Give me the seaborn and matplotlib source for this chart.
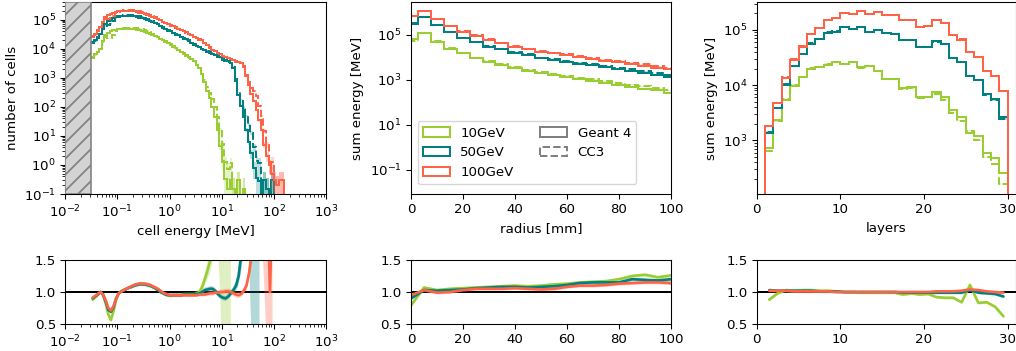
import numpy as np
import pandas as pd
import matplotlib
matplotlib.use("Agg")
import matplotlib.pyplot as plt
from matplotlib.patches import Patch
from matplotlib.ticker import LogLocator, NullFormatter, NullLocator
import seaborn as sns

# ------------------------------------------------------------------ data
labels = ["10GeV", "50GeV", "100GeV"]
palette = ["yellowgreen", "teal", "tomato"]

# panel 1: cell energy spectrum, bins 0.05 decade wide starting at 10^-1.5 MeV
cell_edges = 10 ** np.round(np.arange(-1.5, 2.3001, 0.05), 3)
g4_cells_10 = [5.2e3, 6.3e3, 7.9e3, 1.0e4, 1.8e4, 3.0e4, 3.5e4, 4.0e4, 4.3e4, 4.5e4,
               4.7e4, 4.8e4, 4.9e4, 4.9e4, 4.9e4, 4.8e4, 4.7e4, 4.5e4, 4.3e4, 4.1e4,
               3.8e4, 3.5e4, 3.3e4, 3.0e4, 2.75e4, 2.5e4, 2.2e4, 2.0e4, 1.8e4, 1.6e4,
               1.4e4, 1.2e4, 1.05e4, 9.1e3, 7.9e3, 6.8e3, 5.8e3, 5.0e3, 4.4e3, 3.7e3,
               2.8e3, 2.1e3, 1.3e3, 710, 350, 200, 100, 45, 16, 4.5,
               1.3, 0.32, 0.15, 0.3, 0.15, 0, 0.3, 0, 0.15, 0,
               0, 0, 0, 0, 0, 0, 0, 0, 0, 0, 0, 0, 0, 0, 0, 0]
g4_cells_50 = [1.7e4, 2.0e4, 2.5e4, 3.3e4, 4.8e4, 7.2e4, 8.9e4, 1.05e5, 1.15e5, 1.23e5,
               1.29e5, 1.32e5, 1.35e5, 1.35e5, 1.35e5, 1.32e5, 1.29e5, 1.23e5, 1.17e5, 1.1e5,
               1.02e5, 9.5e4, 8.9e4, 8.1e4, 7.4e4, 6.8e4, 6.0e4, 5.4e4, 4.8e4, 4.3e4,
               3.9e4, 3.5e4, 3.2e4, 2.9e4, 2.6e4, 2.3e4, 2.1e4, 1.9e4, 1.6e4, 1.4e4,
               1.26e4, 1.12e4, 1.0e4, 8.9e3, 7.9e3, 7.1e3, 6.5e3, 5.9e3, 5.4e3, 5.0e3,
               4.6e3, 4.2e3, 3.8e3, 3.3e3, 2.2e3, 790, 250, 110, 45, 16,
               6.3, 2.5, 0.8, 0.35, 0.28, 0, 0.3, 0.15, 0, 0.3,
               0, 0, 0, 0, 0, 0]
g4_cells_100 = [2.7e4, 3.2e4, 4.2e4, 5.6e4, 8.3e4, 1.2e5, 1.41e5, 1.58e5, 1.7e5, 1.82e5,
                1.91e5, 1.95e5, 2.0e5, 2.0e5, 2.0e5, 1.95e5, 1.91e5, 1.82e5, 1.74e5, 1.62e5,
                1.51e5, 1.41e5, 1.32e5, 1.2e5, 1.12e5, 1.02e5, 9.3e4, 8.5e4, 7.8e4, 7.1e4,
                6.5e4, 5.9e4, 5.4e4, 4.9e4, 4.5e4, 4.1e4, 3.6e4, 3.3e4, 3.0e4, 2.6e4,
                2.4e4, 2.1e4, 1.9e4, 1.6e4, 1.3e4, 1.1e4, 9.3e3, 8.1e3, 7.2e3, 6.3e3,
                5.6e3, 5.1e3, 4.7e3, 4.3e3, 4.0e3, 3.7e3, 3.5e3, 3.2e3, 2.4e3, 1.1e3,
                560, 280, 160, 79, 35, 16, 5.0, 2.0, 1.0, 0.5,
                0.3, 0.2, 0.3, 0.3, 0, 0]
nan = np.nan
ratio_cells_10 = [0.88, 0.92, 0.96, 1.00, 0.95, 0.82, 0.65, 0.56, 0.70, 0.88,
                  0.98, 1.01, 1.03, 1.05, 1.07, 1.09, 1.11, 1.12, 1.13, 1.13,
                  1.12, 1.11, 1.10, 1.08, 1.06, 1.04, 1.01, 0.98, 0.96, 0.95,
                  0.94, 0.95, 0.95, 0.95, 0.95, 0.96, 0.96, 0.96, 0.96, 0.96,
                  0.98, 1.00, 1.08, 1.20, 1.33, 1.48, 1.8, 2.2, 2.8, 3.5,
                  4.0, 4.0, 5.0, 4.0] + [nan] * 22
ratio_cells_50 = [0.90, 0.93, 0.96, 1.00, 0.96, 0.85, 0.72, 0.69, 0.76, 0.90,
                  0.98, 1.01, 1.03, 1.05, 1.07, 1.08, 1.10, 1.11, 1.12, 1.12,
                  1.12, 1.11, 1.10, 1.08, 1.06, 1.03, 1.00, 0.98, 0.96, 0.95,
                  0.95, 0.95, 0.95, 0.95, 0.95, 0.96, 0.96, 0.96, 0.96, 0.96,
                  0.97, 0.98, 1.00, 1.03, 1.04, 1.05, 1.05, 1.02, 0.97, 0.93,
                  0.91, 0.90, 0.93, 0.98, 1.03, 1.10, 1.25, 1.6, 2.2, 3.0,
                  4.0, 5.0, 5.0, 4.0, 4.0] + [nan] * 11
ratio_cells_100 = [0.91, 0.94, 0.97, 1.00, 0.96, 0.87, 0.75, 0.71, 0.78, 0.90,
                   0.98, 1.01, 1.03, 1.05, 1.07, 1.09, 1.11, 1.12, 1.13, 1.13,
                   1.13, 1.12, 1.11, 1.09, 1.07, 1.05, 1.02, 0.99, 0.97, 0.96,
                   0.95, 0.95, 0.95, 0.95, 0.95, 0.95, 0.95, 0.95, 0.95, 0.95,
                   0.95, 0.96, 0.96, 0.96, 0.97, 0.98, 0.98, 0.99, 0.99, 1.00,
                   1.00, 1.01, 1.01, 1.00, 0.98, 0.96, 0.95, 0.97, 1.02, 1.10,
                   1.30, 1.6, 2.2, 3.0, 3.0, 3.0, 3.0, 2.5, 1.0, 2.5] + [nan] * 6

# panel 2: radial profile, 5 mm bins centred on 0, 5, ..., 100 mm
radius_edges = np.arange(-2.5, 103, 5.0)
g4_radius_10 = [6.5e4, 1.17e5, 5.0e4, 2.4e4, 1.55e4, 9.1e3, 6.5e3, 4.7e3, 3.5e3, 2.6e3, 2.0e3,
                1.6e3, 1.35e3, 1.1e3, 910, 740, 600, 500, 410, 340, 275]
g4_radius_50 = [3.5e5, 6.2e5, 2.75e5, 1.32e5, 7.1e4, 4.6e4, 3.0e4, 2.3e4, 1.6e4, 1.3e4, 9.1e3,
                7.6e3, 6.3e3, 5.2e3, 4.4e3, 3.6e3, 3.0e3, 2.5e3, 2.0e3, 1.7e3, 1.4e3]
g4_radius_100 = [7.2e5, 1.17e6, 5.0e5, 2.5e5, 1.41e5, 9.1e4, 6.0e4, 4.3e4, 3.0e4, 2.3e4, 1.8e4,
                 1.5e4, 1.26e4, 1.05e4, 8.7e3, 7.2e3, 6.2e3, 5.1e3, 4.3e3, 3.5e3, 3.0e3]
ratio_radius_10 = [0.79, 1.07, 1.03, 1.05, 1.06, 1.07, 1.08, 1.09, 1.10, 1.09, 1.10,
                   1.12, 1.13, 1.15, 1.16, 1.17, 1.20, 1.25, 1.27, 1.23, 1.26]
ratio_radius_50 = [0.90, 1.03, 1.02, 1.03, 1.04, 1.06, 1.07, 1.08, 1.08, 1.07, 1.08,
                   1.09, 1.11, 1.14, 1.15, 1.15, 1.15, 1.20, 1.19, 1.18, 1.20]
ratio_radius_100 = [0.95, 1.03, 0.99, 1.00, 1.03, 1.05, 1.05, 1.05, 1.06, 1.05, 1.04,
                    1.05, 1.08, 1.10, 1.10, 1.11, 1.13, 1.14, 1.15, 1.15, 1.14]

# panel 3: longitudinal profile, layers 1..30
layer_edges = np.arange(1, 31)
g4_layers_10 = [740, 2.3e3, 5.4e3, 9.8e3, 1.38e4, 1.95e4, 2.1e4, 2.35e4, 2.6e4, 2.4e4,
                2.6e4, 2.1e4, 2.2e4, 1.8e4, 1.3e4, 1.3e4, 8.9e3, 9.1e3, 6.2e3, 6.2e3,
                7.4e3, 6.0e3, 3.5e3, 2.7e3, 1.35e3, 1.2e3, 590, 480, 260]
g4_layers_50 = [1.38e3, 3.8e3, 1.02e4, 2.2e4, 3.6e4, 5.6e4, 6.8e4, 8.9e4, 9.3e4, 1.12e5,
                1.02e5, 1.15e5, 9.3e4, 1.0e5, 8.7e4, 8.5e4, 6.6e4, 6.5e4, 4.9e4, 5.0e4,
                6.2e4, 5.6e4, 3.1e4, 2.6e4, 1.45e4, 1.26e4, 6.9e3, 5.6e3, 2.6e3]
g4_layers_100 = [1.8e3, 4.7e3, 1.35e4, 2.9e4, 5.0e4, 8.5e4, 1.07e5, 1.51e5, 1.62e5, 2.0e5,
                 1.95e5, 2.2e5, 1.95e5, 2.15e5, 1.86e5, 1.86e5, 1.48e5, 1.51e5, 1.12e5, 1.17e5,
                 1.51e5, 1.32e5, 8.1e4, 6.6e4, 3.9e4, 3.2e4, 1.8e4, 1.48e4, 7.8e3]
ratio_layers_10 = [0.88, 0.98, 1.03, 1.02, 1.03, 1.03, 1.02, 1.02, 1.01, 1.00,
                   1.00, 0.99, 0.99, 0.99, 0.99, 0.99, 0.96, 0.98, 0.96, 0.97,
                   0.92, 0.91, 0.91, 0.84, 1.11, 0.83, 0.84, 0.77, 0.62]
ratio_layers_50 = [1.03, 1.02, 1.02, 1.02, 1.02, 1.02, 1.01, 1.01, 1.01, 1.00,
                   1.00, 1.00, 1.00, 1.00, 1.00, 1.00, 0.99, 0.99, 0.99, 0.99,
                   0.99, 0.99, 0.99, 0.99, 1.03, 0.99, 0.98, 0.97, 0.93]
ratio_layers_100 = [1.02, 1.02, 1.02, 1.01, 1.01, 1.01, 1.01, 1.01, 1.00, 1.00,
                    1.00, 1.00, 1.00, 1.00, 1.00, 1.00, 1.00, 1.00, 1.00, 1.00,
                    1.01, 1.01, 1.01, 1.02, 1.04, 1.03, 1.01, 1.00, 0.99]

# uncertainty band settings (relative + statistical part)
band_rel = 0.03
band_stat_cells = 0.5
ratio_stat_cells = 1.5
ratio_rel = 0.02

# ------------------------------------------------------------------ style
sns.set_theme(style="ticks", rc={
    "font.size": 10, "axes.labelsize": 10, "xtick.labelsize": 10, "ytick.labelsize": 10,
    "legend.fontsize": 10, "axes.edgecolor": "black", "axes.linewidth": 0.8,
    "xtick.color": "black", "ytick.color": "black", "text.color": "black",
    "axes.labelcolor": "black",
    "xtick.major.size": 3.5, "ytick.major.size": 3.5, "xtick.minor.size": 2,
    "ytick.minor.size": 2, "xtick.major.width": 0.8, "ytick.major.width": 0.8,
    "xtick.minor.width": 0.6, "ytick.minor.width": 0.6,
    "xtick.major.pad": 3.5, "ytick.major.pad": 3.5,
    "hatch.linewidth": 1.3,
})
plt.rcParams["font.family"] = ["DejaVu Sans"]

W, H = 1016, 351
fig = plt.figure(figsize=(W / 96, H / 96), dpi=96)


def rect(x0, x1, y0, y1):
    return [x0 / W, 1 - y1 / H, (x1 - x0) / W, (y1 - y0) / H]


ax1 = fig.add_axes(rect(65.3, 326, 2, 194))
ax2 = fig.add_axes(rect(411, 671, 2, 194))
ax3 = fig.add_axes(rect(756.7, 1016, 2, 194))
bx1 = fig.add_axes(rect(65.3, 326, 260, 324))
bx2 = fig.add_axes(rect(411, 671, 260, 324))
bx3 = fig.add_axes(rect(756.7, 1016, 260, 324))

FLOOR = 1e-6


def draw_hist(ax, edges, g4, ratio, color, stat, baseline):
    g4 = np.asarray(g4, float)
    r = np.nan_to_num(np.asarray(ratio, float), nan=1.0)
    cc3 = g4 * r
    for vals in (g4, cc3):
        err = band_rel * vals + stat * np.sqrt(vals)
        lo = np.clip(vals - err, FLOOR, None)
        hi = np.clip(vals + err, FLOOR, None)
        ax.stairs(hi, edges, baseline=lo, fill=True, color=color, alpha=0.25, lw=0)
    ax.stairs(np.clip(g4, FLOOR, None), edges, baseline=baseline, color=color,
              lw=1.5, linestyle="-")
    ax.stairs(np.clip(cc3, FLOOR, None), edges, baseline=baseline, color=color,
              lw=1.5, linestyle="--")


def draw_ratio(ax, centers, ratio, g4, color, stat):
    r = np.asarray(ratio, float)
    g4 = np.asarray(g4, float)
    with np.errstate(divide="ignore", invalid="ignore"):
        e = r * (ratio_rel + stat / np.sqrt(g4))
    ax.fill_between(centers, r - e, r + e, color=color, alpha=0.3, lw=0)
    df = pd.DataFrame({"x": centers, "ratio": r}).dropna()
    sns.lineplot(data=df, x="x", y="ratio", ax=ax, color=color, lw=2,
                 errorbar=None, legend=False)


# ---- panel 1
cell_centers = np.sqrt(cell_edges[:-1] * cell_edges[1:])
ax1.axvspan(1e-2, cell_edges[0], facecolor="lightgray", edgecolor="gray",
            hatch="//", lw=1.2, zorder=3)
for g4, r, c in zip([g4_cells_10, g4_cells_50, g4_cells_100],
                    [ratio_cells_10, ratio_cells_50, ratio_cells_100], palette):
    draw_hist(ax1, cell_edges, g4, r, c, band_stat_cells, None)
ax1.set_xscale("log")
ax1.set_yscale("log")
ax1.set_xlim(1e-2, 1e3)
ax1.set_ylim(0.1, 4e5)
for axis in (ax1.xaxis, ax1.yaxis):
    axis.set_major_locator(LogLocator(base=10, numticks=20))
    axis.set_minor_locator(LogLocator(base=10, subs=np.arange(2, 10), numticks=100))
    axis.set_minor_formatter(NullFormatter())
ax1.set_xlabel("cell energy [MeV]")
ax1.set_ylabel("number of cells")

bx1.axhline(1.0, color="black", lw=1.5, zorder=1)
for g4, r, c in zip([g4_cells_10, g4_cells_50, g4_cells_100],
                    [ratio_cells_10, ratio_cells_50, ratio_cells_100], palette):
    draw_ratio(bx1, cell_centers, r, g4, c, ratio_stat_cells)
bx1.set_xscale("log")
bx1.set_xlim(1e-2, 1e3)
bx1.xaxis.set_major_locator(LogLocator(base=10, numticks=20))
bx1.xaxis.set_minor_locator(LogLocator(base=10, subs=np.arange(2, 10), numticks=100))
bx1.xaxis.set_minor_formatter(NullFormatter())

# ---- panel 2
radius_centers = 0.5 * (radius_edges[:-1] + radius_edges[1:])
for g4, r, c in zip([g4_radius_10, g4_radius_50, g4_radius_100],
                    [ratio_radius_10, ratio_radius_50, ratio_radius_100], palette):
    draw_hist(ax2, radius_edges, g4, r, c, 0.0, FLOOR)
ax2.set_yscale("log")
ax2.set_xlim(0, 100)
ax2.set_ylim(8.5e-3, 2.9e6)
ax2.set_yticks([1e-1, 1e1, 1e3, 1e5])
ax2.yaxis.set_minor_locator(NullLocator())
ax2.set_xlabel("radius [mm]")
ax2.set_ylabel("sum energy [MeV]")

handles = [Patch(facecolor="none", edgecolor=c, lw=1.5, label=l)
           for c, l in zip(palette, labels)]
handles += [Patch(facecolor="none", edgecolor="gray", lw=1.5, label="Geant 4"),
            Patch(facecolor="none", edgecolor="gray", lw=1.5, ls="--", label="CC3")]
ax2.legend(handles=handles, ncol=2, loc="lower left", frameon=True,
           fancybox=True, framealpha=0.8, edgecolor="0.8",
           bbox_to_anchor=(0.0, 0.015))

bx2.axhline(1.0, color="black", lw=1.5, zorder=1)
for g4, r, c in zip([g4_radius_10, g4_radius_50, g4_radius_100],
                    [ratio_radius_10, ratio_radius_50, ratio_radius_100], palette):
    draw_ratio(bx2, radius_centers, r, g4, c, 0.0)
bx2.set_xlim(0, 100)
bx2.set_xticks([0, 20, 40, 60, 80, 100])

# ---- panel 3
layer_centers = 0.5 * (layer_edges[:-1] + layer_edges[1:])
for g4, r, c in zip([g4_layers_10, g4_layers_50, g4_layers_100],
                    [ratio_layers_10, ratio_layers_50, ratio_layers_100], palette):
    draw_hist(ax3, layer_edges, g4, r, c, 0.0, FLOOR)
ax3.set_yscale("log")
ax3.set_xlim(0, 31)
ax3.set_ylim(107, 3.2e5)
ax3.set_xticks([0, 10, 20, 30])
ax3.set_xlabel("layers")
ax3.set_ylabel("sum energy [MeV]")

bx3.axhline(1.0, color="black", lw=1.5, zorder=1)
for g4, r, c in zip([g4_layers_10, g4_layers_50, g4_layers_100],
                    [ratio_layers_10, ratio_layers_50, ratio_layers_100], palette):
    draw_ratio(bx3, layer_centers, r, g4, c, 0.0)
bx3.set_xlim(0, 31)
bx3.set_xticks([0, 10, 20, 30])

for bx in (bx1, bx2, bx3):
    bx.set_ylim(0.5, 1.5)
    bx.set_yticks([0.5, 1.0, 1.5])
    bx.set_xlabel("")
    bx.set_ylabel("")

fig.savefig("out.png", dpi=96)
